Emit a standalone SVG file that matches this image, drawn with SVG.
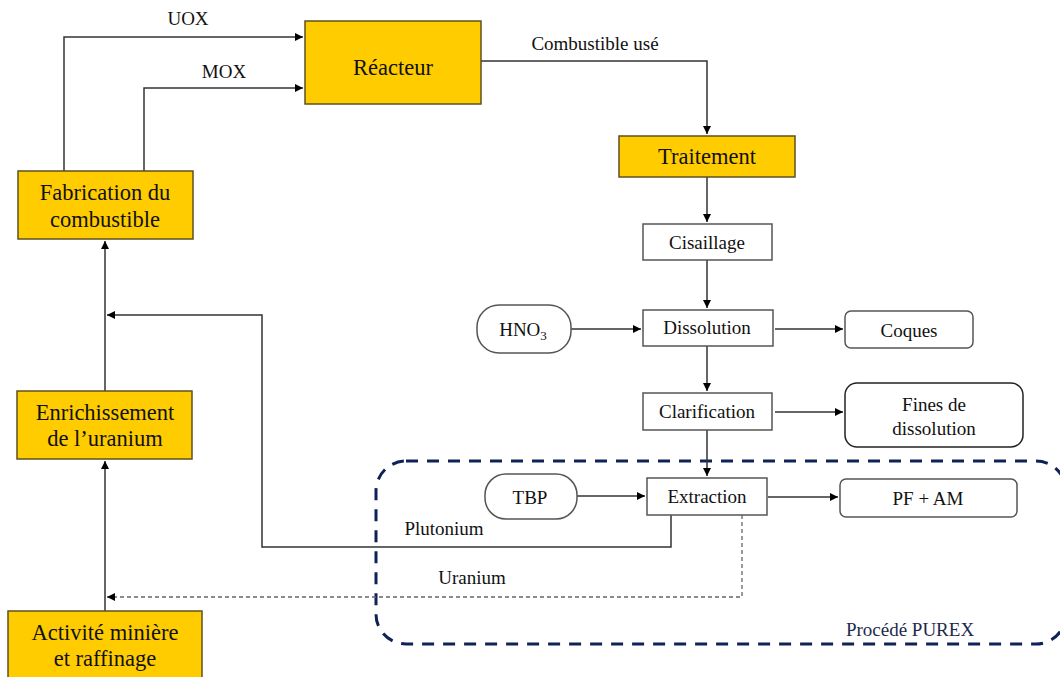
<svg xmlns="http://www.w3.org/2000/svg" width="1060" height="677" viewBox="0 0 1060 677" font-family="'Liberation Serif', 'DejaVu Serif', serif">
<style>
text{font-family:'Liberation Serif','DejaVu Serif',serif;fill:#111;text-anchor:middle}
.gold{fill:#FFCC00;stroke:#5e5020;stroke-width:1.5}
.wbox{fill:#fff;stroke:#555;stroke-width:1.5}
.big{font-size:22.5px}
.mid{font-size:19px}
.lbl{font-size:19px}
.ln{fill:none;stroke:#333;stroke-width:1.5}
.dash{fill:none;stroke:#666;stroke-width:1.3;stroke-dasharray:4 3}
.purex{fill:none;stroke:#0d2257;stroke-width:3;stroke-dasharray:12 9}
</style>
<defs>
<marker id="ah" viewBox="0 0 10 10" refX="10" refY="5" markerWidth="8" markerHeight="8" markerUnits="userSpaceOnUse" orient="auto">
<path d="M0,0 L10,5 L0,10 z" fill="#000"/>
</marker>
</defs>
<rect class="purex" x="376" y="461" width="690" height="183" rx="30" ry="30"/>
<g id="connectors">
<polyline class="ln" points="64,171 64,37 303,37" marker-end="url(#ah)"/>
<polyline class="ln" points="144,171 144,88 303,88" marker-end="url(#ah)"/>
<polyline class="ln" points="481,61 707,61 707,134" marker-end="url(#ah)"/>
<line class="ln" x1="707" y1="177" x2="707" y2="222" marker-end="url(#ah)"/>
<line class="ln" x1="707" y1="260" x2="707" y2="308" marker-end="url(#ah)"/>
<line class="ln" x1="571" y1="329" x2="641" y2="329" marker-end="url(#ah)"/>
<line class="ln" x1="775" y1="329" x2="843" y2="329" marker-end="url(#ah)"/>
<line class="ln" x1="707" y1="346" x2="707" y2="391" marker-end="url(#ah)"/>
<line class="ln" x1="775" y1="412" x2="843" y2="412" marker-end="url(#ah)"/>
<line class="ln" x1="707" y1="430" x2="707" y2="476" marker-end="url(#ah)"/>
<line class="ln" x1="577" y1="496" x2="645" y2="496" marker-end="url(#ah)"/>
<line class="ln" x1="768" y1="497" x2="838" y2="497" marker-end="url(#ah)"/>
<polyline class="ln" points="671,515 671,547 262,547 262,315 107,315" marker-end="url(#ah)"/>
<polyline class="dash" points="742,515 742,597 107,597" marker-end="url(#ah)"/>
<line class="ln" x1="105" y1="611" x2="105" y2="461" marker-end="url(#ah)"/>
<line class="ln" x1="105" y1="391" x2="105" y2="241" marker-end="url(#ah)"/>
</g>
<text class="mid" x="188" y="25">UOX</text>
<text class="mid" x="224" y="78">MOX</text>
<text class="lbl" x="595" y="50">Combustible usé</text>
<text class="lbl" x="444" y="535">Plutonium</text>
<text class="lbl" x="472" y="584">Uranium</text>
<text class="lbl" x="910" y="636" style="fill:#1d2a4d">Procédé PUREX</text>
<g id="reacteur"><rect class="gold" x="305" y="21" width="176" height="83"/><text class="big" x="393" y="75">Réacteur</text></g>
<g id="fabrication"><rect class="gold" x="18" y="171" width="175" height="68"/><text class="big" x="105" y="200">Fabrication du</text><text class="big" x="105" y="227">combustible</text></g>
<g id="enrichissement"><rect class="gold" x="17" y="391" width="175" height="68"/><text class="big" x="105" y="420">Enrichissement</text><text class="big" x="105" y="446">de l’uranium</text></g>
<g id="activite"><rect class="gold" x="8" y="611" width="194" height="70"/><text class="big" x="105" y="640">Activité minière</text><text class="big" x="105" y="666">et raffinage</text></g>
<g id="traitement"><rect class="gold" x="619" y="136" width="176" height="41"/><text class="big" x="707" y="164">Traitement</text></g>
<g id="cisaillage"><rect class="wbox" x="643" y="224" width="129" height="36"/><text class="mid" x="707" y="249">Cisaillage</text></g>
<g id="hno3"><rect class="wbox" x="477" y="305" width="94" height="48" rx="22" ry="22"/><text class="mid" x="523" y="336">HNO<tspan font-size="13" dy="4">3</tspan></text></g>
<g id="dissolution"><rect class="wbox" x="643" y="310" width="130" height="36"/><text class="mid" x="707" y="334">Dissolution</text></g>
<g id="coques"><rect class="wbox" x="845" y="311" width="128" height="37" rx="6" ry="6"/><text class="mid" x="909" y="337">Coques</text></g>
<g id="clarification"><rect class="wbox" x="643" y="393" width="129" height="37"/><text class="mid" x="707" y="418">Clarification</text></g>
<g id="fines"><rect x="845" y="383" width="178" height="64" rx="12" ry="12" style="fill:#fff;stroke:#222;stroke-width:1.5"/><text class="mid" x="934" y="411">Fines de</text><text class="mid" x="934" y="435">dissolution</text></g>
<g id="tbp"><rect class="wbox" x="485" y="474" width="92" height="45" rx="21" ry="21"/><text class="mid" x="530" y="504">TBP</text></g>
<g id="extraction"><rect class="wbox" x="647" y="478" width="120" height="37"/><text class="mid" x="707" y="503">Extraction</text></g>
<g id="pfam"><rect class="wbox" x="840" y="479" width="177" height="38" rx="6" ry="6"/><text class="mid" x="928" y="505">PF + AM</text></g>
</svg>
